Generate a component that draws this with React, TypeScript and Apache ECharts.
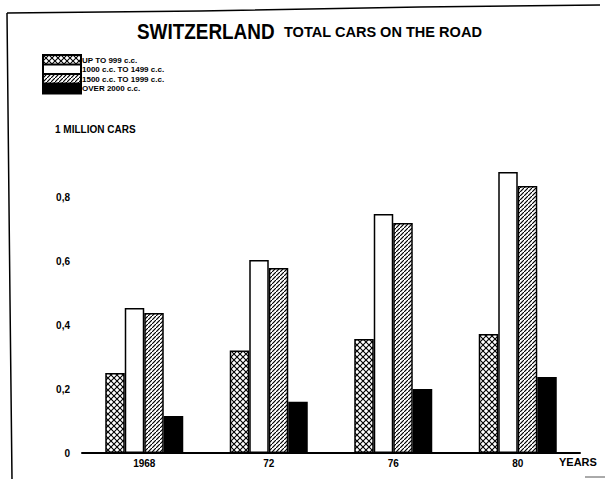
import React, { useEffect, useRef } from "react";
import * as echarts from "echarts";

const years = ["1968", "72", "76", "80"];
const seriesNames = ["UP TO 999 c.c.", "1000 c.c. TO 1499 c.c.", "1500 c.c. TO 1999 c.c.", "OVER 2000 c.c."];
const upTo999 = [0.25, 0.32, 0.356, 0.372];
const from1000to1499 = [0.453, 0.603, 0.747, 0.878];
const from1500to1999 = [0.4375, 0.578, 0.719, 0.834];
const over2000 = [0.116, 0.16, 0.2, 0.2375];
const yTicks = [0, 0.2, 0.4, 0.6, 0.8];

const FONT = "'Liberation Sans', Arial, sans-serif";

function makePattern(kind: "cross" | "hatch"): string {
  const s = kind === "cross" ? 6 : 4;
  const c = document.createElement("canvas");
  c.width = s;
  c.height = s;
  const ctx = c.getContext("2d")!;
  ctx.fillStyle = "#fff";
  ctx.fillRect(0, 0, s, s);
  ctx.strokeStyle = "#000";
  ctx.lineWidth = kind === "cross" ? 1.1 : 1.2;
  ctx.beginPath();
  ctx.moveTo(-1, s + 1);
  ctx.lineTo(s + 1, -1);
  if (kind === "cross") {
    ctx.moveTo(-1, -1);
    ctx.lineTo(s + 1, s + 1);
  }
  ctx.stroke();
  return c.toDataURL();
}

export default function App() {
  const ref = useRef<HTMLDivElement>(null);
  useEffect(() => {
    if (!ref.current) return;
    const chart = echarts.init(ref.current, undefined, { renderer: "svg" });
    const cross = { image: makePattern("cross"), repeat: "repeat" } as any;
    const hatch = { image: makePattern("hatch"), repeat: "repeat" } as any;
    const styles = [
      { color: cross, borderColor: "#000", borderWidth: 1.5 },
      { color: "#fff", borderColor: "#000", borderWidth: 1.5 },
      { color: hatch, borderColor: "#000", borderWidth: 1.5 },
      { color: "#000", borderColor: "#000", borderWidth: 1.5 },
    ];
    const data = [upTo999, from1000to1499, from1500to1999, over2000];
    chart.setOption({
      animation: false,
      backgroundColor: "#fff",
      legend: {
        orient: "vertical",
        left: 42,
        top: 54,
        itemWidth: 38,
        itemHeight: 10,
        itemGap: -2.5,
        padding: 0,
        icon: "rect",
        selectedMode: false,
        data: seriesNames,
        textStyle: {
          fontFamily: FONT,
          fontSize: 8,
          lineHeight: 10,
          fontWeight: "bold",
          color: "#000",
          padding: [0, 0, 0, -4],
        },
      },
      grid: { left: 82, right: 25, top: 133, bottom: 26 },
      xAxis: {
        type: "category",
        data: years,
        axisLine: { lineStyle: { color: "#000", width: 2 } },
        axisTick: { show: false },
        axisLabel: { fontFamily: FONT, fontSize: 10, fontWeight: "bold", color: "#000", margin: 5 },
      },
      yAxis: {
        type: "value",
        min: 0,
        max: 1,
        interval: 0.2,
        splitLine: { show: false },
        axisLine: { show: false },
        axisTick: { show: false },
        axisLabel: {
          fontFamily: FONT,
          fontSize: 10,
          fontWeight: "bold",
          color: "#000",
          margin: 12,
          formatter: (v: number) =>
            yTicks.some((t) => Math.abs(t - v) < 1e-9) ? String(+v.toFixed(1)).replace(".", ",") : "",
        },
      },
      series: seriesNames.map((name, i) => ({
        name,
        type: "bar",
        data: data[i],
        barWidth: 19.5,
        barGap: "0%",
        itemStyle: styles[i],
      })),
      graphic: [
        {
          type: "text",
          x: 137,
          y: 20,
          scaleX: 0.86,
          style: { text: "SWITZERLAND", fontFamily: FONT, fontSize: 22, fontWeight: "bold", fill: "#000" },
        },
        {
          type: "text",
          x: 284,
          y: 24,
          scaleX: 0.97,
          style: { text: "TOTAL CARS ON THE ROAD", fontFamily: FONT, fontSize: 15, fontWeight: "bold", fill: "#000" },
        },
        {
          type: "text",
          left: 55,
          top: 124,
          style: { text: "1 MILLION CARS", fontFamily: FONT, fontSize: 10, fontWeight: "bold", fill: "#000" },
        },
        {
          type: "text",
          left: 559,
          top: 456,
          style: { text: "YEARS", fontFamily: FONT, fontSize: 11, fontWeight: "bold", fill: "#000" },
        },
        {
          type: "polyline",
          shape: { points: [[7, 13], [200, 11], [420, 7], [600, 5]] },
          style: { stroke: "#000", lineWidth: 1.5, fill: null },
        },
        {
          type: "polyline",
          shape: { points: [[7, 13], [10, 300], [12, 479]] },
          style: { stroke: "#000", lineWidth: 1.5, fill: null },
        },
        {
          type: "line",
          shape: { x1: 585, y1: 477, x2: 605, y2: 477 },
          style: { stroke: "#555", lineWidth: 1 },
        },
      ],
    });
    return () => chart.dispose();
  }, []);
  return <div ref={ref} style={{ width: 605, height: 479, position: "absolute", left: 0, top: 0 }} />;
}
